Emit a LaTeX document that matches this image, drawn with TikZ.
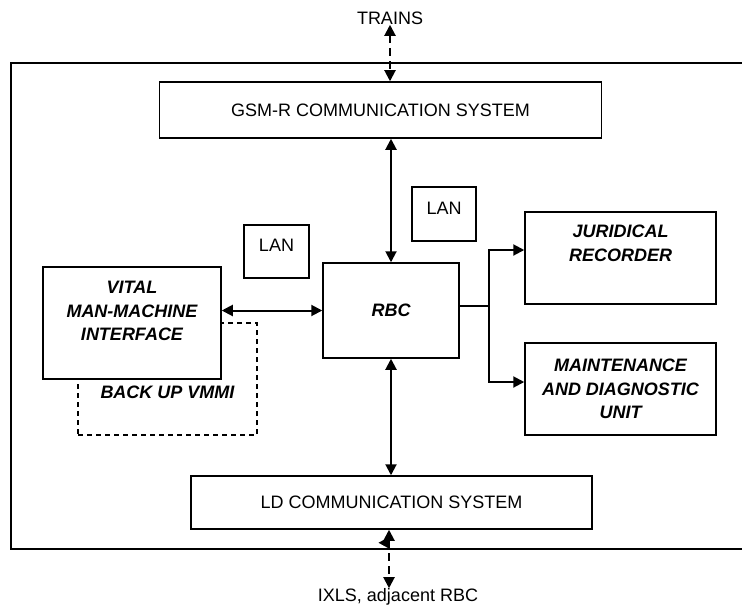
\documentclass[tikz,border=0pt]{standalone}
\usepackage{fontspec}
\setmainfont{Liberation Sans}
\usepackage{tikz}
\usetikzlibrary{arrows.meta, positioning}

\begin{document}
\begin{tikzpicture}[x=0.5pt, y=-0.5pt,
    every node/.style={font=\fontsize{9}{11.75}\selectfont},
    box/.style={draw, line width=0.75pt, inner sep=0pt, align=center},
    bi/.style={font=\fontsize{9}{11.75}\selectfont\bfseries\itshape},
    both/.style={line width=1pt, {Triangle[length=5.5pt,width=5.5pt]}-{Triangle[length=5.5pt,width=5.5pt]}},
    oneway/.style={line width=1pt, -{Triangle[length=5.5pt,width=5.5pt]}},
    dash link/.style={both, dash pattern=on 4pt off 2.5pt}]
        \useasboundingbox (0,0) rectangle (742,610);

        % outer frame, open on the right
        \draw[line width=0.9pt] (742,63) -- (11,63) -- (11,549) -- (742,549);

        \node[box, minimum width=221pt, minimum height=28pt] (gsm) at (380.5,110) {GSM-R COMMUNICATION SYSTEM};
        \node[box, bi, minimum width=68pt, minimum height=47.5pt] (rbc) at (391,310.5) {RBC};
        \node[box, minimum width=32pt, minimum height=27pt, text depth=6pt] (lanA) at (444,214) {LAN};
        \node[box, minimum width=32.5pt, minimum height=26.5pt, text depth=6pt] (lanB) at (276.5,251.5) {LAN};
        \node[box, bi, dashed, dash pattern=on 2.5pt off 2pt, minimum width=89.5pt, minimum height=56pt, text height=20pt] (bvmmi) at (167.5,379) {BACK UP VMMI};
        \node[box, fill=white, minimum width=89pt, minimum height=56pt,
            label={[bi, align=center, anchor=north, inner sep=0pt, yshift=-7.25pt]north:{VITAL\\MAN-MACHINE\\INTERFACE}}] (vmmi) at (132,323) {};
        \node[box, minimum width=95.5pt, minimum height=46pt,
            label={[bi, align=center, anchor=north, inner sep=0pt, yshift=-6.75pt]north:{JURIDICAL\\RECORDER}}] (jr) at (620.5,258) {};
        \node[box, bi, minimum width=95.5pt, minimum height=46pt] (mdu) at (620.5,389) {MAINTENANCE\\AND DIAGNOSTIC\\UNIT};
        \node[box, minimum width=200.5pt, minimum height=26.5pt] (ld) at (391.5,502.5) {LD COMMUNICATION SYSTEM};
        \node[inner sep=0pt] (trains) at (390,18) {TRAINS};
        \node[inner sep=0pt] (ixls) at (398,597) {IXLS, adjacent RBC};

        \coordinate (split) at (489,306);

        \draw[dash link] (trains.south) -- (trains.south |- gsm.north);
        \draw[both] (rbc.north |- gsm.south) -- (rbc.north);
        \draw[both] (rbc.west -| vmmi.east) -- (rbc.west);
        \draw[line width=0.75pt] ([yshift=2.25pt]rbc.east) -- (split);
        \draw[oneway] (split) |- ([yshift=4pt]jr.west);
        \draw[oneway] (split) |- ([yshift=3.5pt]mdu.west);
        \draw[both] (rbc.south) -- (rbc.south |- ld.north);
        \draw[dash link] ([xshift=-1.25pt]ld.south) -- ([xshift=-1.25pt]ld.south |- ixls.north);
        \draw[-{Triangle[length=5pt,width=5.5pt]}, line width=0pt] ([xshift=-3.75pt,yshift=-6.5pt]ld.south) -- ++(-5.5,0);
    \end{tikzpicture}
\end{document}
